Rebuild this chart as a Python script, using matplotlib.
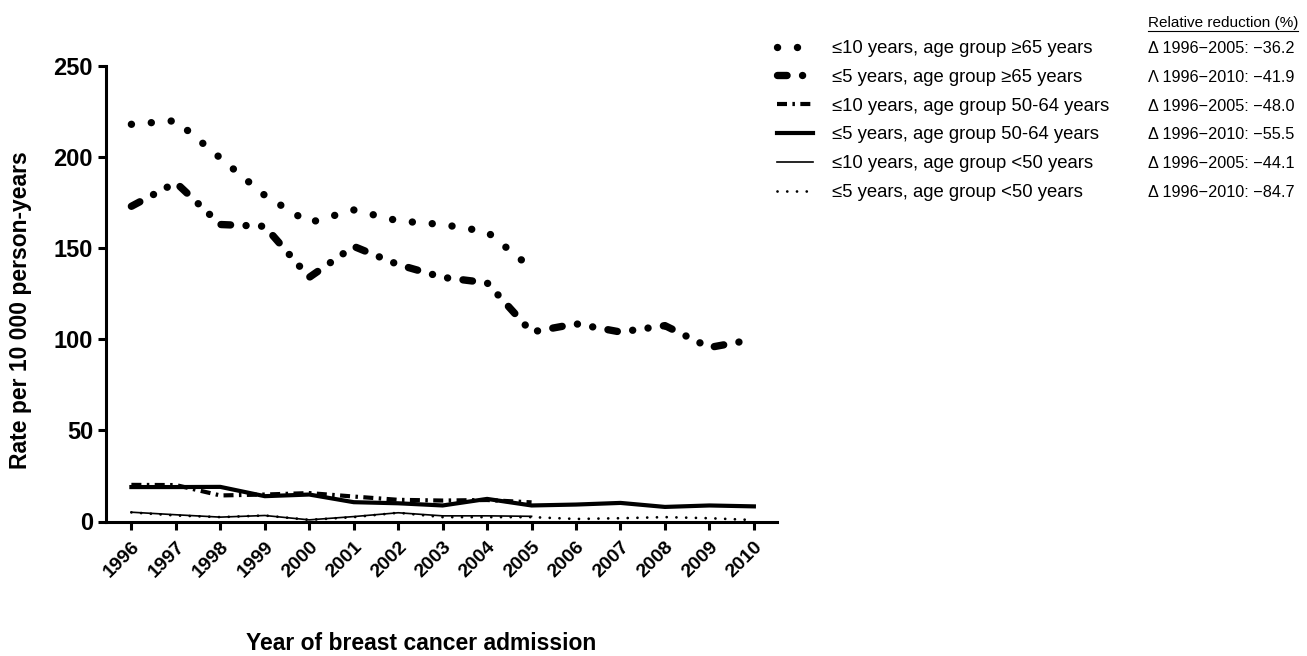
import matplotlib
matplotlib.use("Agg")
import matplotlib.pyplot as plt
from matplotlib.lines import Line2D
import numpy as np

plt.rcParams['font.family'] = ['Liberation Sans', 'DejaVu Sans']

years_long = list(range(1996, 2011))
years_short = list(range(1996, 2006))

le10_ge65 = [218, 220, 199.5, 179, 164, 171, 165, 163, 159, 139]
le5_ge65 = [173, 186, 163, 162, 134, 151, 141, 134, 131, 104, 108.5, 104, 107.5, 95.5, 100]
le10_50_64 = [20.1, 20.0, 14.3, 14.8, 15.6, 13.7, 11.9, 11.5, 11.8, 10.5]
le5_50_64 = [18.9, 18.9, 19.0, 13.9, 14.8, 10.6, 10.0, 8.8, 12.4, 8.8, 9.3, 10.2, 8.0, 8.8, 8.3]
le10_lt50 = [5.1, 3.7, 2.4, 3.3, 0.9, 2.7, 4.8, 3.1, 3.1, 2.85]
le5_lt50 = [5.0, 3.3, 2.4, 3.3, 0.9, 2.4, 4.8, 2.4, 2.4, 2.4, 1.4, 1.8, 2.4, 1.8, 0.8]

labels = ["\u226410 years, age group \u226565 years",
          "\u22645 years, age group \u226565 years",
          "\u226410 years, age group 50-64 years",
          "\u22645 years, age group 50-64 years",
          "\u226410 years, age group <50 years",
          "\u22645 years, age group <50 years"]
reductions = ["\u0394 1996\u22122005: \u221236.2",
              "\u039b 1996\u22122010: \u221241.9",
              "\u0394 1996\u22122005: \u221248.0",
              "\u0394 1996\u22122010: \u221255.5",
              "\u0394 1996\u22122005: \u221244.1",
              "\u0394 1996\u22122010: \u221284.7"]
header = "Relative reduction (%)"
yticks = [0, 50, 100, 150, 200, 250]

W, H = 1307, 656
fig = plt.figure(figsize=(W / 100, H / 100), dpi=100)
ax = fig.add_axes([105.6 / W, 1 - 521.5 / H, (777 - 105.6) / W, (521.5 - 66) / H])

ax.plot(years_short, le10_ge65, color='black', lw=5.3, linestyle=(0, (0.01, 2.7)),
        dash_capstyle='round', label=labels[0])
ax.plot(years_long, le5_ge65, color='black', lw=5.3,
        linestyle=(0, (1.3, 2.1, 0.01, 2.1, 0.01, 2.1)),
        dash_capstyle='round', label=labels[1])
ax.plot(years_short, le10_50_64, color='black', lw=3.0, linestyle=(0, (2.4, 1.3, 0.6, 1.3)),
        dash_capstyle='butt', label=labels[2])
ax.plot(years_long, le5_50_64, color='black', lw=3.0, linestyle='-', label=labels[3])
ax.plot(years_short, le10_lt50, color='black', lw=1.2, linestyle='-', label=labels[4])
ax.plot(years_long, le5_lt50, color='black', lw=2.0, linestyle=(0, (0.01, 3.5)),
        dash_capstyle='round', label=labels[5])

ax.set_xlim(1995.42, 2010.52)
ax.set_ylim(0, 250)
ax.set_yticks(yticks)
ax.set_xticks(years_long)
ax.set_xticklabels([str(y) for y in years_long], rotation=45, ha='right',
                   rotation_mode='anchor', fontsize=14, fontweight='bold')
ax.set_yticklabels([str(v) for v in yticks], fontsize=17, fontweight='bold')
for s in ['top', 'right']:
    ax.spines[s].set_visible(False)
for s in ['left', 'bottom']:
    ax.spines[s].set_linewidth(2.2)
    ax.spines[s].set_capstyle('projecting')
ax.tick_params(axis='both', direction='out', length=6, width=2.2, pad=3)
ax.tick_params(axis='x', pad=6)

fig.text(21 / W, 1 - 310 / H, "Rate per 10 000 person-years", rotation=90,
         ha='center', va='center', fontsize=16.5, fontweight='bold')
fig.text(421 / W, 1 - 643 / H, "Year of breast cancer admission",
         ha='center', va='center', fontsize=16.5, fontweight='bold')

handles, labs = ax.get_legend_handles_labels()
leg = fig.legend(handles, labs, loc='upper left', bbox_to_anchor=(777 / W, 1 - 40 / H),
                 frameon=False, fontsize=13.3, handlelength=1.95, handletextpad=1.05,
                 labelspacing=0.64, borderpad=0, borderaxespad=0)

fig.canvas.draw()
renderer = fig.canvas.get_renderer()

# size of the right-hand column, fitted to the reference width
probe = fig.text(0, 0, reductions[0], fontsize=13.3)
pw = probe.get_window_extent(renderer).width
probe.remove()
fs_red = 13.3 * 146.0 / pw

for t, red in zip(leg.get_texts(), reductions):
    bb = t.get_window_extent(renderer)
    yc = (bb.y0 + bb.y1) / 2 / H
    fig.text(1148 / W, yc, red, ha='left', va='center', fontsize=fs_red)

probe = fig.text(0, 0, header, fontsize=13.3)
hw = probe.get_window_extent(renderer).width
probe.remove()
fs_hdr = 13.3 * 150.0 / hw
hdr = fig.text(1148 / W, 1 - 23 / H, header, ha='left', va='center', fontsize=fs_hdr)
fig.canvas.draw()
hb = hdr.get_window_extent(renderer)
fig.add_artist(Line2D([hb.x0 / W, hb.x1 / W], [(hb.y0 - 1) / H, (hb.y0 - 1) / H],
                      color='black', lw=0.8, transform=fig.transFigure))

fig.savefig("out.png", dpi=100)
